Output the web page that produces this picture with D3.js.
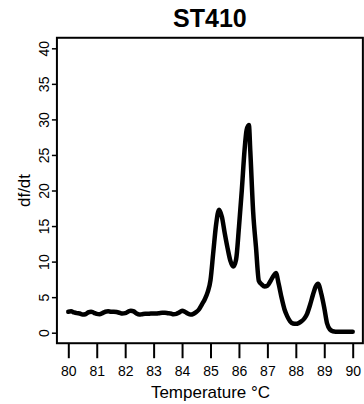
<!DOCTYPE html>
<html>
<head>
<meta charset="utf-8">
<script src="https://cdn.jsdelivr.net/npm/d3@7/dist/d3.min.js"></script>
<style>
  html, body { margin: 0; padding: 0; background: #fff; }
  svg { display: block; }
  text { font-family: "Liberation Sans", Arial, Helvetica, sans-serif; fill: #000; }
</style>
</head>
<body>
<div id="chart"></div>
<script>
// Melt curve derivative for sample ST410
const title = "ST410";
const xLabel = "Temperature \u00B0C";
const yLabel = "df/dt";

const temperature = [
  80.0, 80.1, 80.2, 80.3, 80.4, 80.5, 80.6, 80.7, 80.8, 80.9,
  81.0, 81.1, 81.2, 81.3, 81.4, 81.5, 81.6, 81.7, 81.8, 81.9,
  82.0, 82.1, 82.2, 82.3, 82.4, 82.5, 82.6, 82.7, 82.8, 82.9,
  83.0, 83.1, 83.2, 83.3, 83.4, 83.5, 83.6, 83.7, 83.8, 83.9,
  84.0, 84.1, 84.2, 84.3, 84.4, 84.5, 84.6, 84.7, 84.8, 84.9,
  85.0, 85.1, 85.2, 85.3, 85.4, 85.5, 85.6, 85.7, 85.8, 85.9,
  86.0, 86.1, 86.2, 86.27, 86.35, 86.4, 86.5, 86.6, 86.7, 86.8, 86.9,
  87.0, 87.1, 87.2, 87.3, 87.4, 87.5, 87.6, 87.7, 87.8, 87.9,
  88.0, 88.1, 88.2, 88.3, 88.4, 88.5, 88.6, 88.7, 88.78, 88.9,
  89.0, 89.1, 89.2, 89.3, 89.4, 89.5, 89.6, 89.7, 89.8, 89.9, 90.0
];

const dfdt = [
  2.95, 3.0, 2.85, 2.75, 2.7, 2.55, 2.6, 2.85, 2.95, 2.8,
  2.65, 2.6, 2.75, 2.95, 3.0, 2.95, 2.95, 2.9, 2.8, 2.7,
  2.75, 2.95, 3.1, 3.0, 2.7, 2.55, 2.6, 2.65, 2.65, 2.7,
  2.7, 2.7, 2.75, 2.8, 2.8, 2.75, 2.7, 2.6, 2.65, 2.85,
  3.1, 2.95, 2.7, 2.55, 2.65, 2.9, 3.3, 4.0, 4.7, 5.7,
  7.4, 11.4, 15.3, 17.3, 16.3, 14.0, 11.9, 10.1, 9.3, 10.3,
  14.8, 20.0, 25.8, 28.5, 29.2, 25.5, 17.0, 12.0, 7.3, 6.8, 6.5,
  6.6, 7.2, 7.9, 8.4, 6.8, 4.9, 3.3, 2.3, 1.6, 1.3,
  1.25, 1.35, 1.6, 2.0, 2.7, 3.9, 5.3, 6.5, 6.9, 5.4,
  3.5, 1.3, 0.45, 0.2, 0.15, 0.15, 0.15, 0.15, 0.15, 0.15, 0.15
];

const xTicks = [80, 81, 82, 83, 84, 85, 86, 87, 88, 89, 90];
const yTicks = [0, 5, 10, 15, 20, 25, 30, 35, 40];

const W = 364, H = 404;
const svg = d3.select("#chart").append("svg")
  .attr("width", W).attr("height", H);

// Scales: plot region padded 4% beyond the nominal axis ranges
const x = d3.scaleLinear().domain([80, 90]).range([68.3, 352.7]);
const y = d3.scaleLinear().domain([0, 40]).range([332.7, 48.3]);
const xPad = 0.4, yPad = 1.48;

const box = {
  left: x(80 - xPad), right: x(90 + xPad) - 1.2,
  top: y(40 + yPad), bottom: y(0 - yPad)
};

// Frame
svg.append("rect")
  .attr("x", box.left).attr("y", box.top)
  .attr("width", box.right - box.left).attr("height", box.bottom - box.top)
  .attr("fill", "none").attr("stroke", "#000").attr("stroke-width", 2);

// Y axis, labels rotated to read upward
const yAxis = d3.axisLeft(y).tickValues(yTicks).tickSize(5);
const gy = svg.append("g").attr("transform", `translate(${box.left},0)`).call(yAxis);
gy.select(".domain").remove();
gy.selectAll(".tick line").attr("stroke", "#000").attr("stroke-width", 1.5);
gy.selectAll(".tick text")
  .attr("font-size", 14).attr("font-family", "Liberation Sans, Arial, sans-serif")
  .attr("transform", "rotate(-90)")
  .attr("x", 0).attr("y", -8).attr("dy", "0")
  .attr("text-anchor", "middle");

// X axis: ticks hang below the frame
const xAxis = d3.axisBottom(x).tickValues(xTicks).tickSize(15).tickPadding(8).tickFormat(d3.format("d"));
const gx = svg.append("g").attr("transform", `translate(0,${box.bottom})`).call(xAxis);
gx.select(".domain").remove();
gx.selectAll(".tick line").attr("stroke", "#000").attr("stroke-width", 2);
gx.selectAll(".tick text").attr("font-size", 14).attr("font-family", "Liberation Sans, Arial, sans-serif");

// Curve
const pts = temperature.map((t, i) => [t, dfdt[i]]);
const line = d3.line()
  .x(d => x(d[0])).y(d => y(d[1]))
  .curve(d3.curveMonotoneX);
svg.append("path")
  .datum(pts)
  .attr("d", line)
  .attr("fill", "none").attr("stroke", "#000")
  .attr("stroke-width", 4.5)
  .attr("stroke-linejoin", "round").attr("stroke-linecap", "round");

// Titles
svg.append("text")
  .attr("x", (box.left + box.right) / 2).attr("y", 27)
  .attr("text-anchor", "middle")
  .attr("font-size", 25).attr("font-weight", "bold")
  .text(title);

svg.append("text")
  .attr("x", (x(80) + x(90)) / 2).attr("y", 398)
  .attr("text-anchor", "middle")
  .attr("font-size", 17)
  .text(xLabel);

svg.append("text")
  .attr("transform", `translate(30,${(y(0) + y(40)) / 2}) rotate(-90)`)
  .attr("text-anchor", "middle")
  .attr("font-size", 17)
  .text(yLabel);
</script>
</body>
</html>
